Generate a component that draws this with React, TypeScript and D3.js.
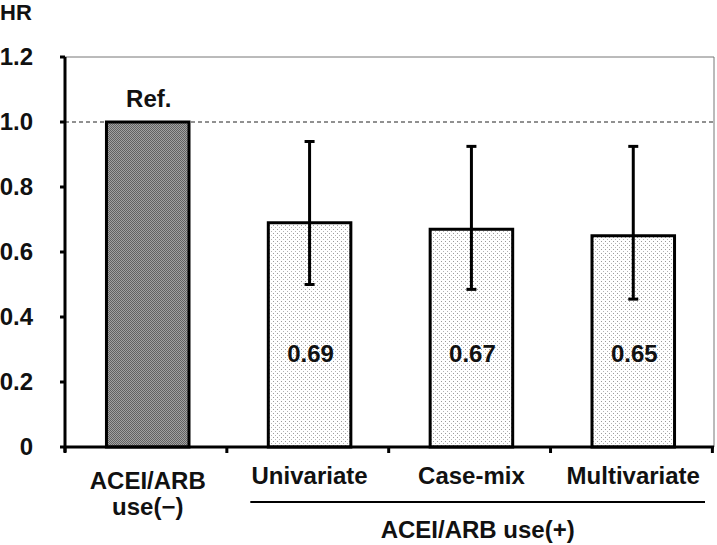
import React, { useRef, useEffect } from 'react';
import * as d3 from 'd3';

const categories = ['ACEI/ARB use(−)', 'Univariate', 'Case-mix', 'Multivariate'];
const hrValues = [1.0, 0.69, 0.67, 0.65];
const ciLower = [null, 0.5, 0.485, 0.455];
const ciUpper = [null, 0.94, 0.925, 0.925];
const barLabels = ['Ref.', '0.69', '0.67', '0.65'];
const yTicks = [0, 0.2, 0.4, 0.6, 0.8, 1.0, 1.2];

function App() {
  const svgRef = useRef<SVGSVGElement>(null);
  const width = 717;
  const height = 545;

  useEffect(() => {
    const margin = { top: 57, right: 3, bottom: 98, left: 65 };
    const innerWidth = width - margin.left - margin.right;
    const innerHeight = height - margin.top - margin.bottom;
    const font = '"Liberation Sans", Arial, sans-serif';
    const fs = 24;

    const svg = d3.select(svgRef.current);
    svg.selectAll('*').remove();

    const defs = svg.append('defs');
    // dark checker fill for the reference bar
    const dark = defs.append('pattern')
      .attr('id', 'darkFill')
      .attr('width', 2)
      .attr('height', 2)
      .attr('patternUnits', 'userSpaceOnUse');
    dark.append('rect').attr('width', 2).attr('height', 2).attr('fill', '#a2a2a2');
    dark.append('rect').attr('width', 1).attr('height', 1).attr('fill', '#626262');
    dark.append('rect').attr('x', 1).attr('y', 1).attr('width', 1).attr('height', 1).attr('fill', '#626262');

    // light dotted fill
    const dots = defs.append('pattern')
      .attr('id', 'dotFill')
      .attr('width', 4)
      .attr('height', 4)
      .attr('patternUnits', 'userSpaceOnUse');
    dots.append('rect').attr('width', 4).attr('height', 4).attr('fill', '#ffffff');
    dots.append('rect').attr('width', 1).attr('height', 1).attr('fill', '#9a9a9a');
    dots.append('rect').attr('x', 2).attr('y', 2).attr('width', 1).attr('height', 1).attr('fill', '#b4b4b4');

    const x = d3.scaleBand<string>()
      .domain(categories)
      .range([1, innerWidth + 1])
      .paddingInner(0.49)
      .paddingOuter(0.25);

    const y = d3.scaleLinear()
      .domain([0, 1.2])
      .range([innerHeight, 0]);

    const g = svg.append('g')
      .attr('transform', `translate(${margin.left}, ${margin.top})`);

    // plot frame (top and right)
    g.append('line')
      .attr('x1', 0).attr('x2', innerWidth)
      .attr('y1', y(1.2)).attr('y2', y(1.2))
      .attr('stroke', '#777').attr('stroke-width', 1);
    g.append('line')
      .attr('x1', innerWidth).attr('x2', innerWidth)
      .attr('y1', 0).attr('y2', innerHeight)
      .attr('stroke', '#777').attr('stroke-width', 1);

    // reference line at HR = 1
    g.append('line')
      .attr('x1', 0).attr('x2', innerWidth)
      .attr('y1', y(1)).attr('y2', y(1))
      .attr('stroke', '#222')
      .attr('stroke-width', 1)
      .attr('stroke-dasharray', '4,3');

    // bars
    g.selectAll('rect.bar')
      .data(hrValues)
      .enter()
      .append('rect')
      .attr('class', 'bar')
      .attr('x', (d, i) => x(categories[i])!)
      .attr('y', d => y(d))
      .attr('width', x.bandwidth())
      .attr('height', d => innerHeight - y(d))
      .attr('fill', (d, i) => (i === 0 ? 'url(#darkFill)' : 'url(#dotFill)'))
      .attr('stroke', '#000')
      .attr('stroke-width', 3);

    // error bars
    hrValues.forEach((d, i) => {
      const lo = ciLower[i];
      const hi = ciUpper[i];
      if (lo == null || hi == null) return;
      const cx = x(categories[i])! + x.bandwidth() / 2;
      g.append('line')
        .attr('x1', cx).attr('x2', cx)
        .attr('y1', y(lo)).attr('y2', y(hi))
        .attr('stroke', '#000').attr('stroke-width', 3);
      [lo, hi].forEach(v => {
        g.append('line')
          .attr('x1', cx - 5).attr('x2', cx + 5)
          .attr('y1', y(v)).attr('y2', y(v))
          .attr('stroke', '#000').attr('stroke-width', 3);
      });
    });

    // bar labels
    barLabels.forEach((lab, i) => {
      const cx = x(categories[i])! + x.bandwidth() / 2;
      g.append('text')
        .attr('x', cx + 1)
        .attr('y', i === 0 ? y(hrValues[0]) - 15 : y(0.262))
        .attr('text-anchor', 'middle')
        .attr('font-family', font)
        .attr('font-weight', 'bold')
        .attr('font-size', fs)
        .attr('fill', '#111')
        .text(lab);
    });

    // y axis
    g.append('line')
      .attr('x1', 0).attr('x2', 0)
      .attr('y1', 0).attr('y2', innerHeight + 5)
      .attr('stroke', '#000').attr('stroke-width', 3);
    yTicks.forEach(t => {
      g.append('line')
        .attr('x1', -5).attr('x2', 0)
        .attr('y1', y(t)).attr('y2', y(t))
        .attr('stroke', '#000').attr('stroke-width', 3);
      g.append('text')
        .attr('x', -32)
        .attr('y', y(t) + 8)
        .attr('text-anchor', 'end')
        .attr('font-family', font)
        .attr('font-weight', 'bold')
        .attr('font-size', fs)
        .attr('fill', '#111')
        .text(t === 0 ? '0' : t.toFixed(1));
    });

    // x axis
    g.append('line')
      .attr('x1', 0).attr('x2', innerWidth)
      .attr('y1', innerHeight).attr('y2', innerHeight)
      .attr('stroke', '#000').attr('stroke-width', 3);
    const step = x.step();
    d3.range(categories.length + 1).forEach(k => {
      const tx = Math.min(k * step, innerWidth - 1);
      g.append('line')
        .attr('x1', tx).attr('x2', tx)
        .attr('y1', innerHeight).attr('y2', innerHeight + 6)
        .attr('stroke', '#000').attr('stroke-width', 3);
    });

    // category labels
    categories.forEach((c, i) => {
      const cx = x(c)! + x.bandwidth() / 2;
      const t = g.append('text')
        .attr('text-anchor', 'middle')
        .attr('font-family', font)
        .attr('font-weight', 'bold')
        .attr('font-size', fs)
        .attr('fill', '#111');
      if (i === 0) {
        t.append('tspan').attr('x', cx).attr('y', innerHeight + 42).text('ACEI/ARB');
        t.append('tspan').attr('x', cx).attr('y', innerHeight + 68).text('use(−)');
      } else {
        t.attr('x', cx).attr('y', innerHeight + 37).text(c);
      }
    });

    // group bracket for ACEI/ARB use(+)
    const bx0 = x(categories[1])! - 18;
    const bx1 = innerWidth - 9;
    g.append('line')
      .attr('x1', bx0).attr('x2', bx1)
      .attr('y1', innerHeight + 55).attr('y2', innerHeight + 55)
      .attr('stroke', '#000').attr('stroke-width', 2);
    g.append('text')
      .attr('x', (bx0 + bx1) / 2)
      .attr('y', innerHeight + 91)
      .attr('text-anchor', 'middle')
      .attr('font-family', font)
      .attr('font-weight', 'bold')
      .attr('font-size', fs)
      .attr('fill', '#111')
      .text('ACEI/ARB use(+)');

    // y axis title
    svg.append('text')
      .attr('x', 0)
      .attr('y', 20)
      .attr('font-family', font)
      .attr('font-weight', 'bold')
      .attr('font-size', 22)
      .attr('fill', '#111')
      .text('HR');
  }, []);

  return (
    <svg
      ref={svgRef}
      width={width}
      height={height}
      viewBox={`0 0 ${width} ${height}`}
      style={{ position: 'absolute', left: 0, top: 0, background: '#fff' }}
    />
  );
}

export default App;
